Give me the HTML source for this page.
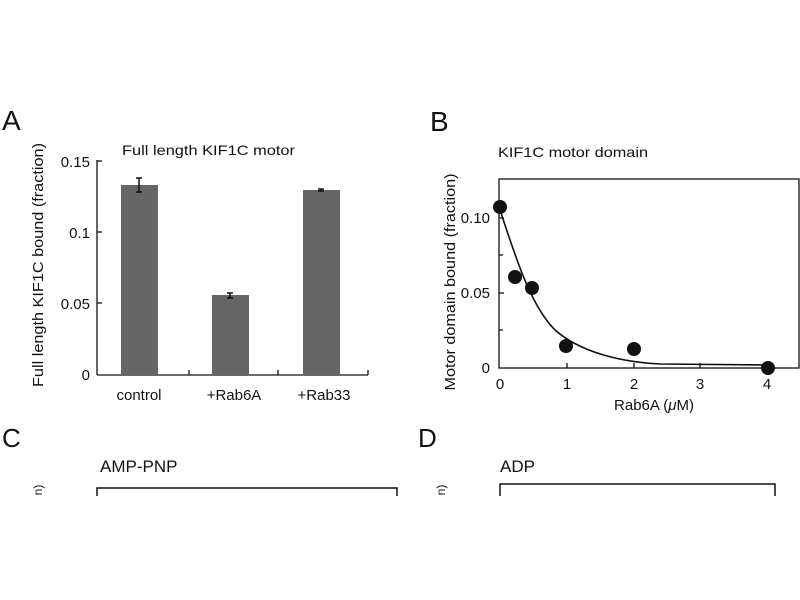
<!DOCTYPE html>
<html><head><style>body{margin:0;background:#fff}svg{display:block}text{font-family:"Liberation Sans",sans-serif;fill:#111}</style></head>
<body>
<svg width="800" height="600" viewBox="0 0 800 600">
<rect width="800" height="600" fill="#fff"/>
<!-- Panel A -->
<text x="2" y="130" font-size="28">A</text>
<text x="122" y="155" font-size="14" textLength="173" lengthAdjust="spacingAndGlyphs">Full length KIF1C motor</text>
<g stroke="#111" stroke-width="1.3" fill="none">
<line x1="97" y1="160" x2="97" y2="375"/>
<line x1="97" y1="375" x2="368" y2="375"/>
<line x1="97" y1="161" x2="102" y2="161"/>
<line x1="97" y1="232" x2="102" y2="232"/>
<line x1="97" y1="303" x2="102" y2="303"/>
<line x1="189" y1="375" x2="189" y2="370"/>
<line x1="278" y1="375" x2="278" y2="370"/>
<line x1="368" y1="375" x2="368" y2="370"/>
</g>
<rect x="121" y="185" width="37" height="190" fill="#666"/>
<rect x="212" y="295" width="37" height="80" fill="#666"/>
<rect x="303" y="190" width="37" height="185" fill="#666"/>
<g stroke="#111" stroke-width="1.5">
<line x1="139" y1="178" x2="139" y2="192"/><line x1="136" y1="178" x2="142" y2="178"/><line x1="136" y1="192" x2="142" y2="192"/>
<line x1="230" y1="293" x2="230" y2="298"/><line x1="227" y1="293" x2="233" y2="293"/><line x1="227" y1="298" x2="233" y2="298"/>
<line x1="321" y1="189" x2="321" y2="191"/><line x1="318" y1="189" x2="324" y2="189"/><line x1="318" y1="191" x2="324" y2="191"/>
</g>
<g font-size="15" text-anchor="end">
<text x="90" y="167">0.15</text><text x="90" y="238">0.1</text><text x="90" y="309">0.05</text><text x="90" y="380">0</text>
</g>
<g font-size="15" text-anchor="middle">
<text x="139" y="400">control</text><text x="234" y="400">+Rab6A</text><text x="324" y="400">+Rab33</text>
</g>
<text transform="translate(43,265) rotate(-90)" font-size="15" text-anchor="middle" textLength="244" lengthAdjust="spacingAndGlyphs">Full length KIF1C bound (fraction)</text>
<!-- Panel B -->
<text x="430" y="131" font-size="28">B</text>
<text x="498" y="157" font-size="14" textLength="150" lengthAdjust="spacingAndGlyphs">KIF1C motor domain</text>
<rect x="499" y="179" width="300" height="189" fill="none" stroke="#111" stroke-width="1.3"/>
<g stroke="#111" stroke-width="1.3">
<line x1="499" y1="218" x2="504" y2="218"/><line x1="499" y1="255" x2="503" y2="255"/><line x1="499" y1="293" x2="504" y2="293"/><line x1="499" y1="330" x2="503" y2="330"/>
<line x1="567" y1="368" x2="567" y2="363"/><line x1="634" y1="368" x2="634" y2="363"/><line x1="700" y1="368" x2="700" y2="363"/><line x1="768" y1="368" x2="768" y2="363"/>
</g>
<g font-size="15" text-anchor="end">
<text x="490" y="223">0.10</text><text x="490" y="298">0.05</text><text x="490" y="373">0</text>
</g>
<g font-size="15" text-anchor="middle">
<text x="500" y="389">0</text><text x="567" y="389">1</text><text x="634" y="389">2</text><text x="700" y="389">3</text><text x="767" y="389">4</text>
</g>
<text x="654" y="410" font-size="15" text-anchor="middle">Rab6A (<tspan font-style="italic">μ</tspan>M)</text>
<text transform="translate(455,282) rotate(-90)" font-size="15" text-anchor="middle" textLength="217" lengthAdjust="spacingAndGlyphs">Motor domain bound (fraction)</text>
<path d="M500,210 C515,255 530,305 555,330 C580,352 620,362 660,364 L768,365" fill="none" stroke="#111" stroke-width="1.6"/>
<g fill="#111">
<circle cx="500" cy="207" r="7"/><circle cx="515" cy="277" r="7"/><circle cx="532" cy="288" r="7"/><circle cx="566" cy="346" r="7"/><circle cx="634" cy="349" r="7"/><circle cx="768" cy="368" r="7"/>
</g>
<!-- Panel C / D -->
<text x="2" y="447" font-size="26">C</text>
<text x="100" y="472" font-size="17">AMP-PNP</text>
<path d="M97,496 V488 H397 V496" fill="none" stroke="#111" stroke-width="1.5"/>
<text transform="translate(42,490) rotate(-90)" font-size="12" text-anchor="middle">n)</text>
<text x="418" y="447" font-size="26">D</text>
<text x="500" y="472" font-size="17">ADP</text>
<path d="M500,496 V484 H775 V496" fill="none" stroke="#111" stroke-width="1.5"/>
<text transform="translate(445,490) rotate(-90)" font-size="12" text-anchor="middle">n)</text>
</svg>
</body></html>
